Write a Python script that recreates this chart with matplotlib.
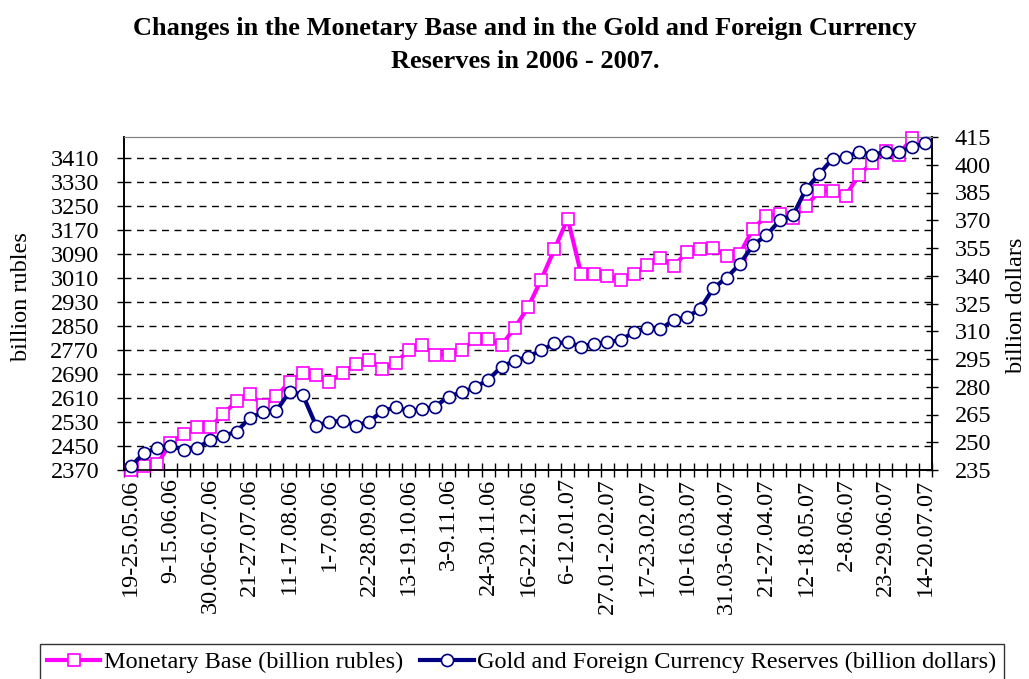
import numpy as np
import matplotlib
matplotlib.use("Agg")
import matplotlib.pyplot as plt
from matplotlib.ticker import FixedLocator

plt.rcParams['font.family'] = ['Liberation Serif', 'DejaVu Serif']

# weekly figures, 19-25.05.06 ... 14-20.07.07
monetary_base = [
    2370, 2385, 2389, 2459, 2490, 2512, 2514, 2556, 2600, 2623,
    2586, 2616, 2664, 2694, 2686, 2664, 2694, 2722, 2738, 2708,
    2727, 2769, 2786, 2755, 2755, 2769, 2806, 2806, 2786, 2844,
    2912, 3005, 3106, 3208, 3025, 3025, 3017, 3005, 3025, 3052,
    3078, 3049, 3097, 3106, 3111, 3082, 3091, 3175, 3217, 3222,
    3211, 3250, 3300, 3300, 3285, 3355, 3394, 3435, 3421, 3478,
    np.nan,
]
reserves = [
    237.0, 244.0, 247.0, 248.0, 246.0, 247.0, 251.0, 253.5, 255.7, 263.3,
    266.2, 266.9, 277.4, 275.6, 259.0, 261.1, 261.5, 259.0, 261.1, 266.9,
    268.9, 266.9, 267.8, 269.3, 274.7, 277.0, 279.7, 283.7, 290.9, 294.0,
    296.3, 299.6, 303.5, 304.1, 301.7, 303.2, 304.1, 305.3, 309.5, 311.7,
    311.1, 316.2, 317.6, 322.1, 333.3, 339.0, 346.4, 356.7, 361.8, 369.9,
    372.6, 387.0, 395.1, 403.3, 404.2, 406.9, 405.4, 406.9, 406.9, 409.6,
    411.7,
]
week_labels = [
    "19-25.05.06", "9-15.06.06", "30.06-6.07.06", "21-27.07.06", "11-17.08.06",
    "1-7.09.06", "22-28.09.06", "13-19.10.06", "3-9.11.06", "24-30.11.06",
    "16-22.12.06", "6-12.01.07", "27.01-2.02.07", "17-23.02.07", "10-16.03.07",
    "31.03-6.04.07", "21-27.04.07", "12-18.05.07", "2-8.06.07", "23-29.06.07",
    "14-20.07.07",
]
left_ticks = list(range(2370, 3411, 80))
right_ticks = list(range(235, 416, 15))

MAGENTA = "#FF00FF"
NAVY = "#000080"
FS = 17.5

x = np.arange(len(monetary_base))

fig = plt.figure(figsize=(10.29, 6.79), dpi=100)
ax = fig.add_axes([124 / 1029, 1 - 470 / 679, 808 / 1029, 333 / 679])
ax2 = ax.twinx()

ax.plot(x, monetary_base, color=MAGENTA, lw=3.0, marker="s", ms=8.3,
        mfc="white", mec=MAGENTA, mew=1.2, label="Monetary Base (billion rubles)",
        clip_on=False, zorder=3)
ax2.plot(x, reserves, color=NAVY, lw=3.0, marker="o", ms=8.7,
         mfc="white", mec=NAVY, mew=1.2,
         label="Gold and Foreign Currency Reserves (billion dollars)",
         clip_on=False, zorder=3)

ax.set_xlim(-0.5, len(x) - 0.5)
ax.set_ylim(2370, 3480)
ax2.set_ylim(235, 415)

ax.set_yticks(left_ticks)
ax.set_yticklabels([str(v) for v in left_ticks], fontsize=FS)
ax2.set_yticks(right_ticks)
ax2.set_yticklabels([str(v) for v in right_ticks], fontsize=FS)

# labels every third week, tick marks between every week
ax.xaxis.set_major_locator(FixedLocator(np.arange(0, len(x), 3)))
ax.set_xticklabels(week_labels, rotation=90, fontsize=FS, va="top")
ax.xaxis.set_minor_locator(FixedLocator(np.arange(-0.5, len(x), 1)))
ax.tick_params(axis="x", which="major", length=0, pad=6)
ax.tick_params(axis="x", which="minor", direction="inout", length=10, width=1)
ax.tick_params(axis="y", direction="out", length=5, width=1, pad=13)
ax2.tick_params(axis="y", direction="inout", length=9, width=1, pad=12)

ax.grid(axis="y", color="black", ls=(0, (5, 4)), lw=1)
ax.set_axisbelow(True)

for a in (ax, ax2):
    a.spines["top"].set_color("#808080")
    for s in ("left", "right", "bottom"):
        a.spines[s].set_color("black")
        a.spines[s].set_linewidth(1.2)

fig.text(0.51, 1 - 28 / 679, "Changes in the Monetary Base and in the Gold and Foreign Currency",
         ha="center", va="center", fontsize=19, fontweight="bold")
fig.text(0.51, 1 - 61 / 679, "Reserves in 2006 - 2007.",
         ha="center", va="center", fontsize=19, fontweight="bold")
fig.text(22 / 1029, 1 - 297 / 679, "billion rubles", rotation=90,
         ha="center", va="center", fontsize=FS)
fig.text(1016 / 1029, 1 - 305 / 679, "billion dollars", rotation=90,
         ha="center", va="center", fontsize=FS)

h1, l1 = ax.get_legend_handles_labels()
h2, l2 = ax2.get_legend_handles_labels()
leg = fig.legend(h1 + h2, l1 + l2, loc="upper center", ncol=2,
                 bbox_to_anchor=(0.507, 1 - 644 / 679), fontsize=FS,
                 frameon=True, fancybox=False, edgecolor="black",
                 handlelength=2.2, handletextpad=0.15, columnspacing=0.7,
                 borderpad=0.3, borderaxespad=0)
leg.get_frame().set_linewidth(1)

fig.savefig("out.png", dpi=100)
